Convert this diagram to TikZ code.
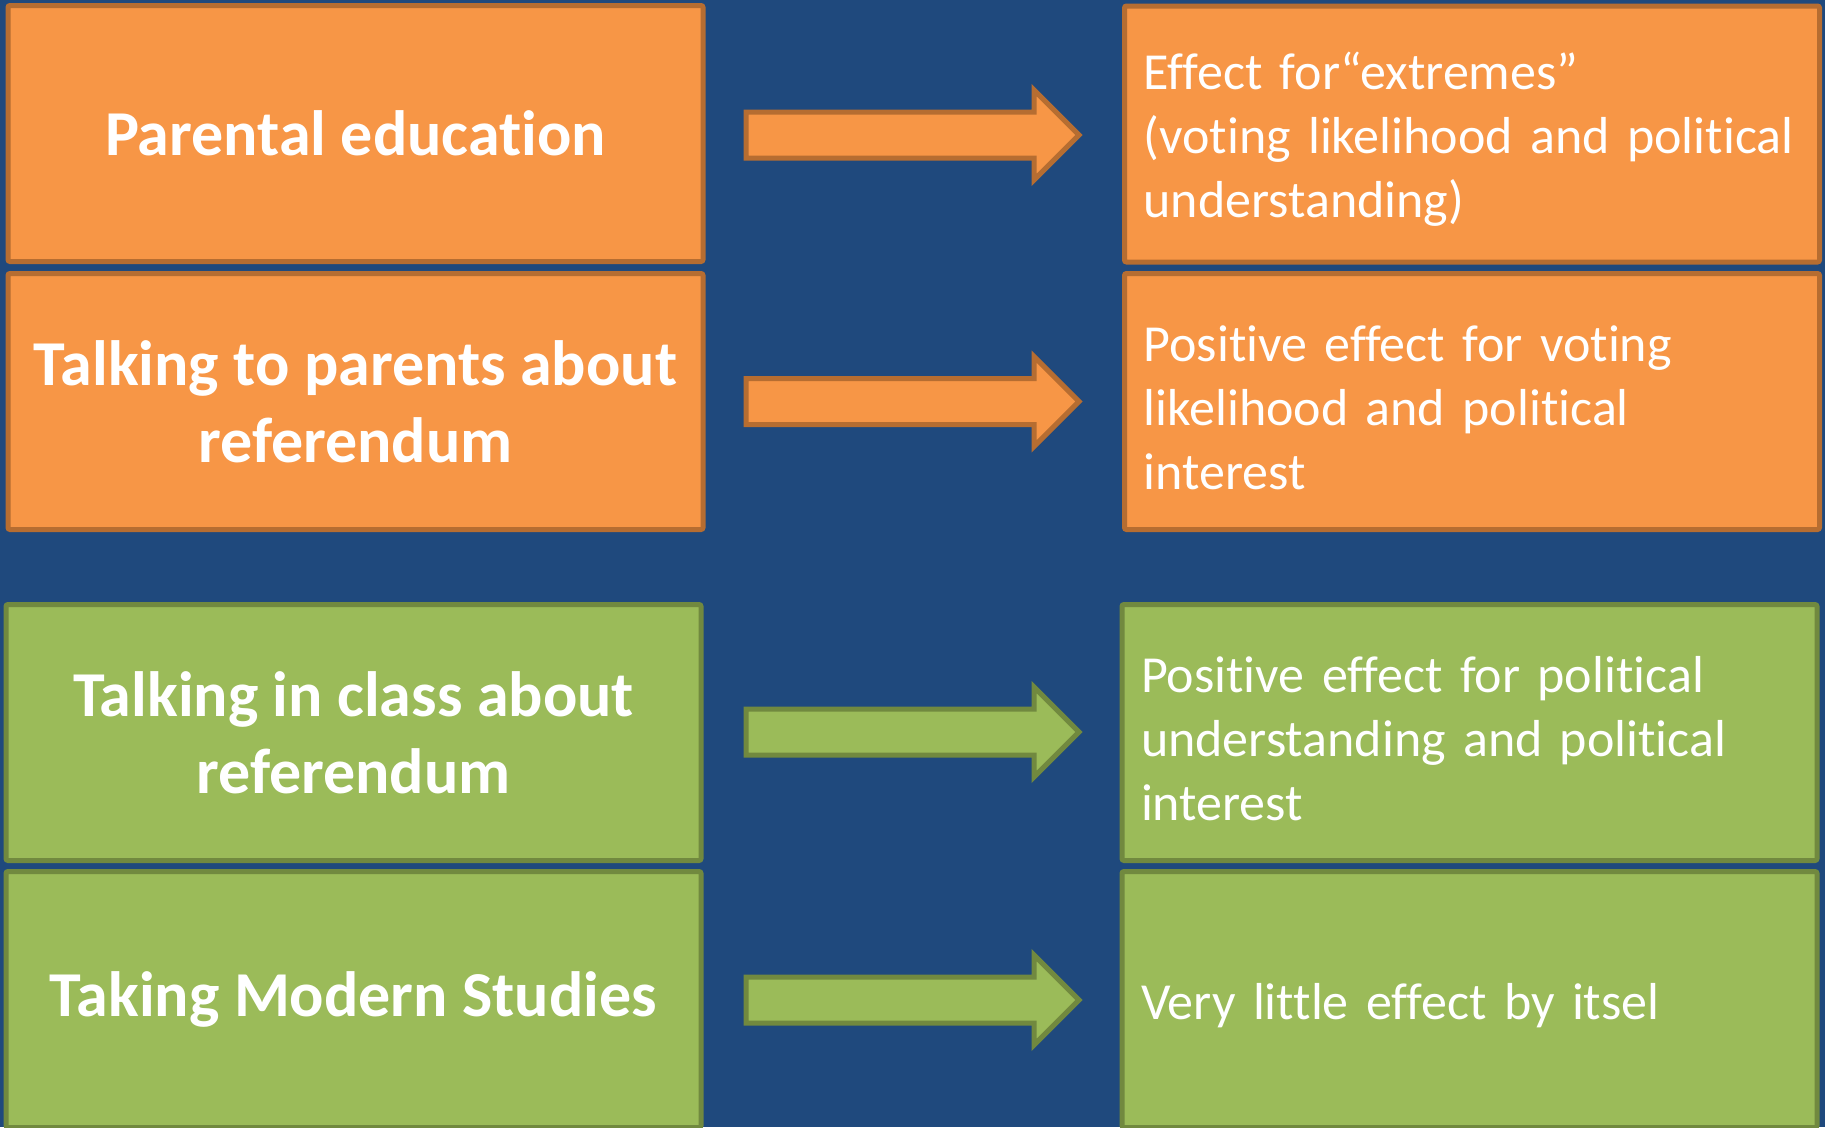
\documentclass[tikz,border=0pt]{standalone}
\usepackage{fontspec}
\setmainfont{Carlito}[Ligatures=NoCommon]
\usetikzlibrary{shapes.arrows}
\definecolor{bgblue}{HTML}{1F497D}
\definecolor{orfill}{HTML}{F79646}
\definecolor{orline}{HTML}{B66D31}
\definecolor{grfill}{HTML}{9BBB59}
\definecolor{grline}{HTML}{71893F}

\begin{document}
\begin{tikzpicture}[x=1pt,y=-1pt,
  box/.style={draw,line width=5pt,rounded corners=2pt,minimum width=695pt,minimum height=256pt,inner sep=0pt,text=white},
  cause/.style={box,font=\fontsize{64}{77}\selectfont\bfseries,align=center},
  effect/.style={box,font=\fontsize{52}{64}\selectfont,align=left,text width=657pt,inner xsep=19pt,
    execute at begin node={\rule{0pt}{48pt}}},
  orange/.style={fill=orfill,draw=orline},
  green/.style={fill=grfill,draw=grline},
  blockarrow/.style={single arrow,draw,line width=5pt,minimum height=333pt,inner xsep=0pt,inner ysep=20.5pt,single arrow head extend=22pt}]
\clip (0,0) rectangle (1825,1127);
\fill[bgblue] (0,0) rectangle (1825,1127);

% left column
\node[cause,orange] (educ) at (355.5,133.5) {Parental education};
\node[cause,orange] (talkpar) at (355.5,401.5) {Talking to parents about\\referendum};
\node[cause,green] (talkclass) at (353.5,732.5) {Talking in class about\\referendum};
\node[cause,green] (modstud) at (353.5,999.5) {Taking Modern Studies};

% right column
\node[effect,orange] (extremes) at (1472,134) {Effect for“extremes”\\(voting likelihood and political\\understanding)};
\node[effect,orange] (voting) at (1472,401.5) {Positive effect for voting\\likelihood and political\\interest};
\node[effect,green] (interest) at (1469.5,732.5) {Positive effect for political\\understanding and political\\interest};
\node[effect,green] (little) at (1469.5,999.5) {Very little effect by itsel};

% arrows
\node[blockarrow,orange] (a1) at (901,135) {};
\node[blockarrow,orange] (a2) at (901,401.5) {};
\node[blockarrow,green] (a3) at (901,732) {};
\node[blockarrow,green] (a4) at (901,1000) {};
\end{tikzpicture}
\end{document}
